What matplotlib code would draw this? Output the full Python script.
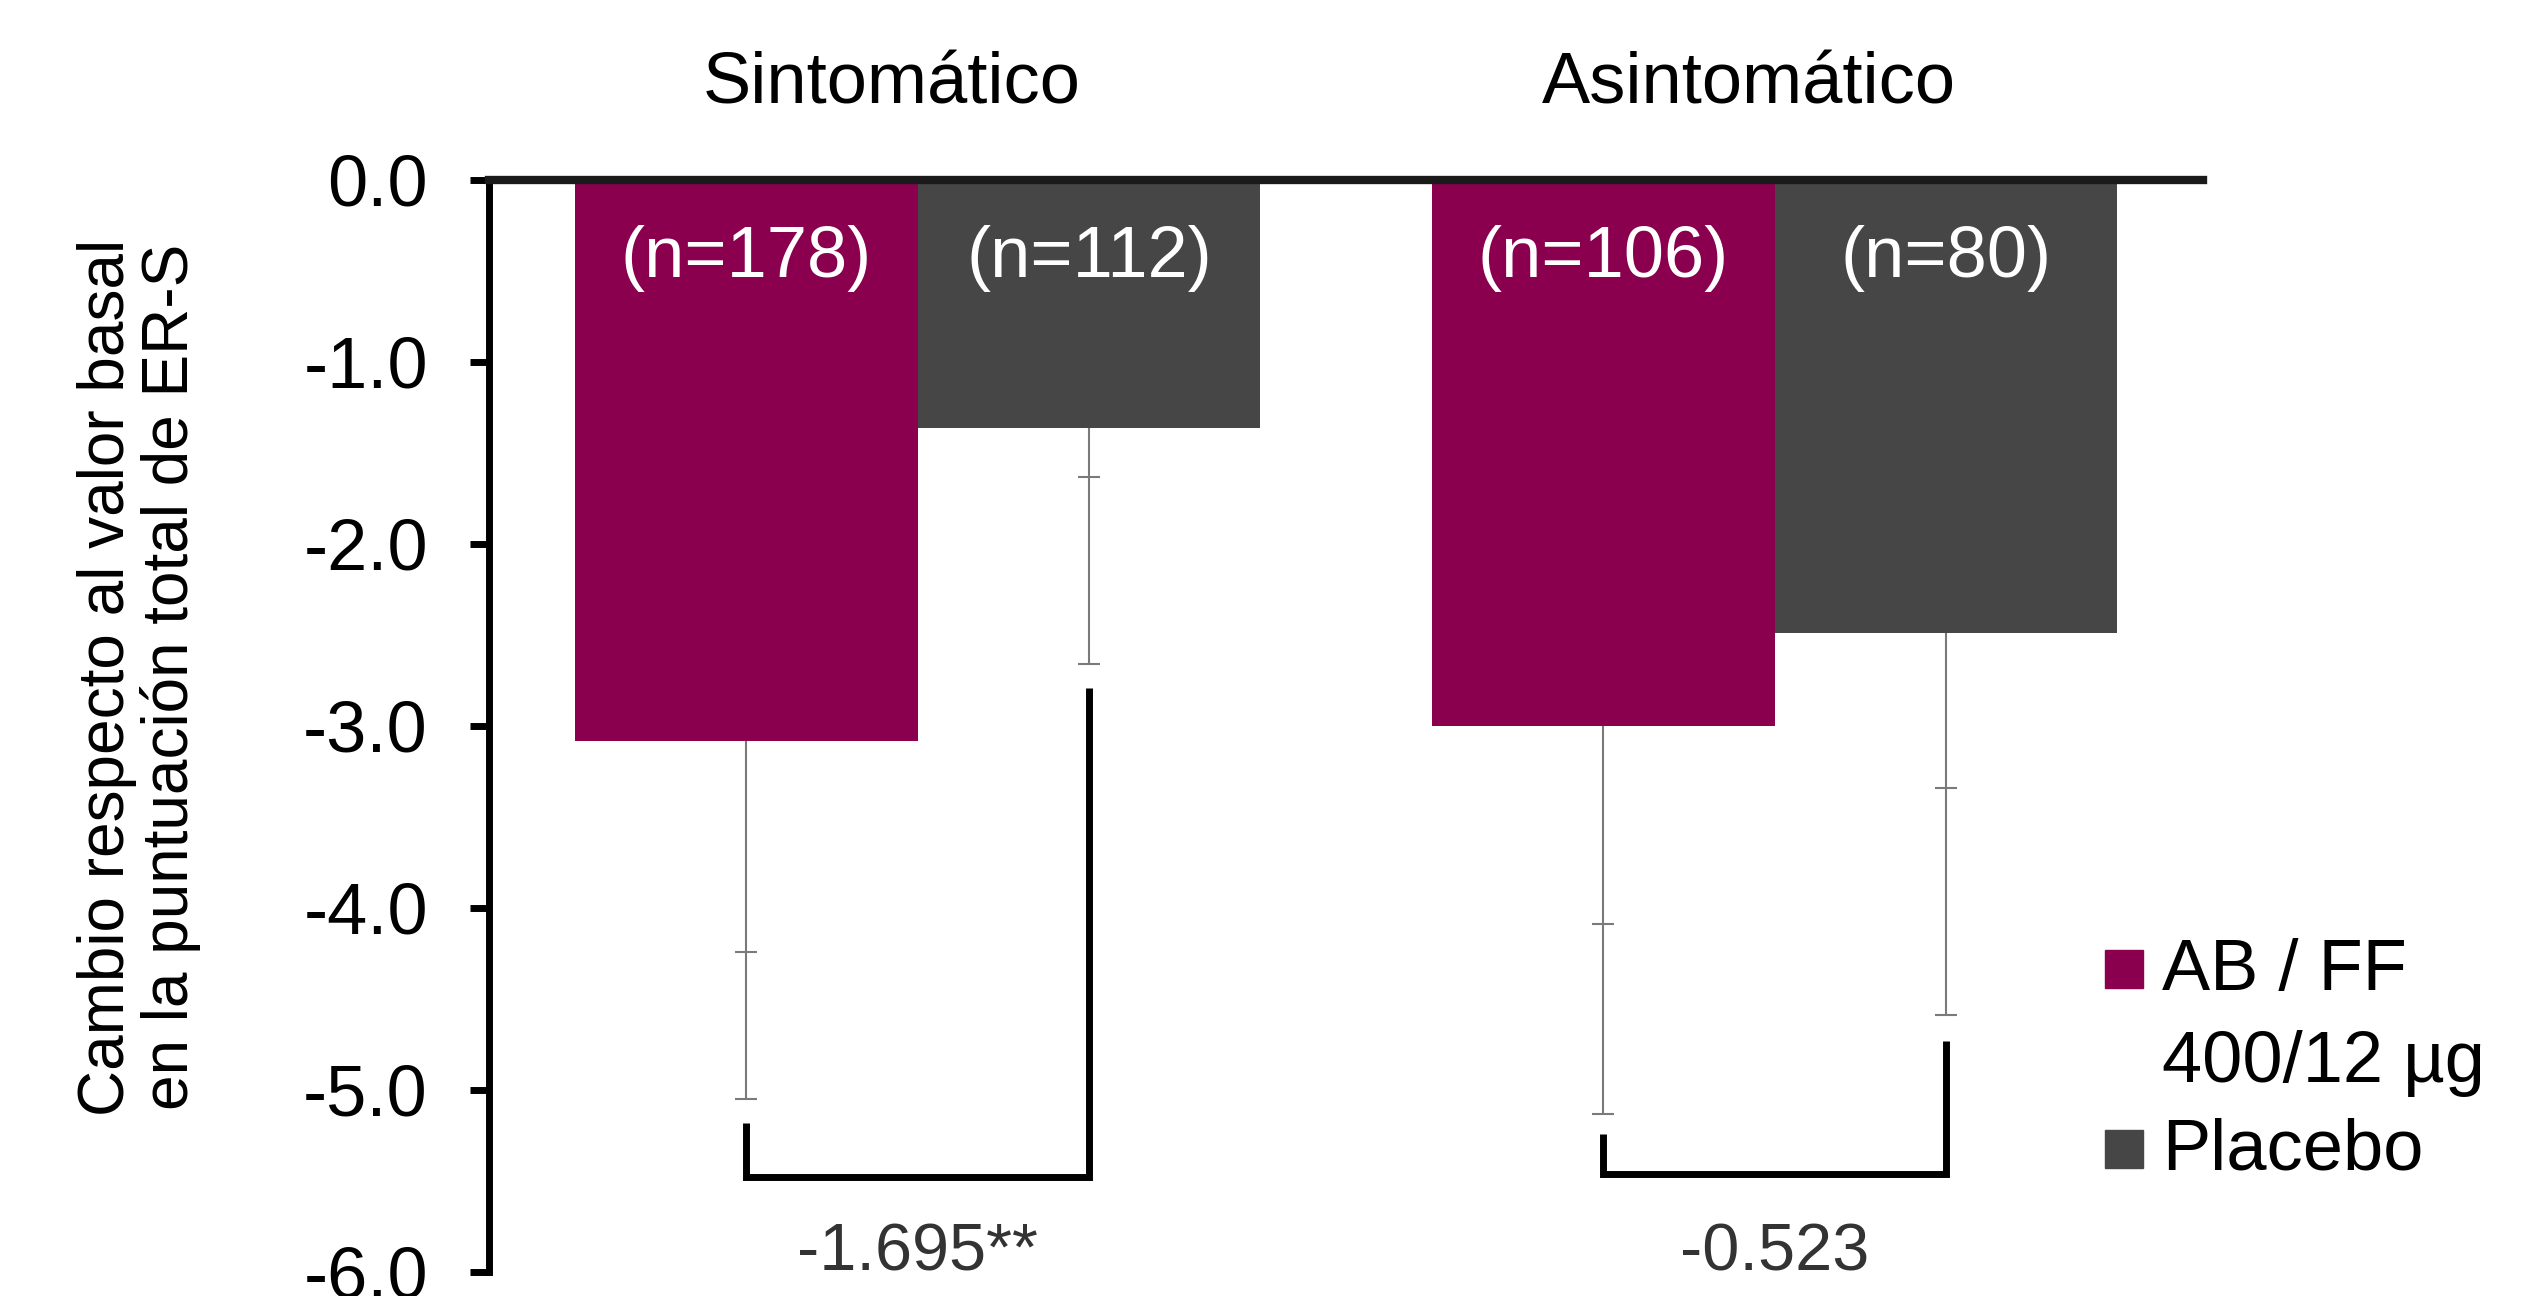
import numpy as np
import matplotlib.pyplot as plt
from matplotlib.patches import Rectangle

plt.rcParams['font.family'] = ['Liberation Sans', 'DejaVu Sans']

######## Daten ########
grupos = ['Sintomático', 'Asintomático']
colores = ['#8a004f', '#464646']   # AB/FF, Placebo
leyenda = [['AB / FF', '400/12 µg'], ['Placebo']]

cambio_abff = [-3.08, -3.00]
cambio_placebo = [-1.36, -2.49]
n_abff = [178, 106]
n_placebo = [112, 80]

# marcas de las barras de error (interior, exterior)
ic_abff = [(-4.24, -5.05), (-4.09, -5.13)]
ic_placebo = [(-1.63, -2.66), (-3.34, -4.59)]

# corchetes de comparacion
corchete_izq = [-5.18, -5.24]
corchete_der = [-2.79, -4.73]
corchete_base = [-5.48, -5.46]
diferencia = ['-1.695**', '-0.523']

yticks = [0, -1, -2, -3, -4, -5, -6]
ylabel = 'Cambio respecto al valor basal\nen la puntuación total de ER-S'

######## Plot ########
W, H = 2533, 1296
fig = plt.figure(figsize=(W / 100, H / 100), dpi=100)
ax = fig.add_axes([489 / W, 1 - 1272 / H, (2203 - 489) / W, (1272 - 180) / H])

x = np.arange(len(grupos))
w = 0.4
ax.bar(x - w / 2, cambio_abff, w, color=colores[0], zorder=2)
ax.bar(x + w / 2, cambio_placebo, w, color=colores[1], zorder=2)

err_col = '#7a7a7a'
for i in range(len(grupos)):
    for xpos, val, ic in [(x[i] - w / 2, cambio_abff[i], ic_abff[i]),
                          (x[i] + w / 2, cambio_placebo[i], ic_placebo[i])]:
        ax.vlines(xpos, val, ic[1], color=err_col, lw=1.5, zorder=1)
        ax.plot([xpos, xpos], ic, ls='none', marker='_', ms=16, mew=1.5, color=err_col, zorder=1)

    # corchete
    ax.plot([x[i] - w / 2, x[i] - w / 2, x[i] + w / 2, x[i] + w / 2],
            [corchete_izq[i], corchete_base[i], corchete_base[i], corchete_der[i]],
            color='black', lw=5, solid_joinstyle='miter', solid_capstyle='butt', zorder=3)
    ax.text(x[i], -5.9, diferencia[i], ha='center', va='center', fontsize=48, color='#333333')

    # n
    ax.text(x[i] - w / 2, -0.43, '(n=%d)' % n_abff[i], ha='center', va='center',
            fontsize=52, color='white', zorder=4)
    ax.text(x[i] + w / 2, -0.43, '(n=%d)' % n_placebo[i], ha='center', va='center',
            fontsize=52, color='white', zorder=4)

    # titulos de grupo
    ax.text(x[i] - 0.03, 0.42, grupos[i], ha='center', va='baseline', fontsize=52,
            clip_on=False)

ax.set_xlim(-0.5, 1.5)
ax.set_ylim(-6.0, 0)
ax.set_xticks([])
ax.set_yticks(yticks)
ax.set_yticklabels(['%.1f' % v for v in yticks])
ax.tick_params(axis='y', direction='out', length=14, width=5, pad=30, labelsize=52)
ax.spines['bottom'].set_visible(False)
ax.spines['right'].set_visible(False)
ax.spines['top'].set_linewidth(6)
ax.spines['top'].set_color('#1a1a1a')
ax.spines['top'].set_zorder(5)
ax.spines['left'].set_linewidth(5)
ax.spines['left'].set_color('black')

fig.text(139 / W, 1 - 677 / H, ylabel, rotation=90, ha='center', va='center',
         fontsize=46, linespacing=1.05)

# leyenda
ley_y = [990, 1170]
for k in range(2):
    fig.add_artist(Rectangle((2105 / W, 1 - (ley_y[k] - 2) / H), 38 / W, 38 / H,
                             transform=fig.transFigure, color=colores[k]))
    for j, linea in enumerate(leyenda[k]):
        fig.text(2162 / W, 1 - (ley_y[k] + j * 92) / H, linea, ha='left', va='baseline',
                 fontsize=52)

fig.savefig('out.png', dpi=100)
